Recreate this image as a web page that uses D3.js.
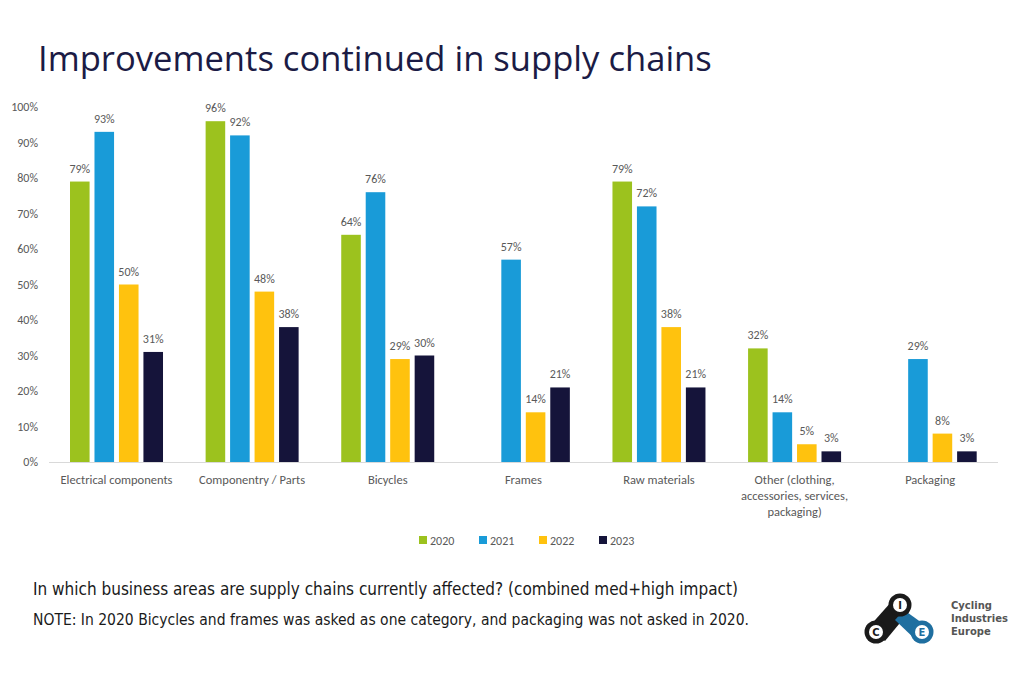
<!DOCTYPE html>
<html><head><meta charset="utf-8">
<script src="https://cdn.jsdelivr.net/npm/d3@7"></script>
<style>body{margin:0;background:#fff;} svg{display:block;}</style>
</head><body>
<svg id="c" width="1024" height="683"></svg>
<script>
const categories = ["Electrical components","Componentry / Parts","Bicycles","Frames","Raw materials","Other (clothing,|accessories, services,|packaging)","Packaging"];
const years = ["2020","2021","2022","2023"];
const v2020 = [79,96,64,null,79,32,null];
const v2021 = [93,92,76,57,72,14,29];
const v2022 = [50,48,29,14,38,5,8];
const v2023 = [31,38,30,21,21,3,3];
const yTicks = [0,10,20,30,40,50,60,70,80,90,100];
const colors = ["#9CC21E","#199BD8","#FFC20E","#15143A"];
const series = [v2020,v2021,v2022,v2023];

const svg = d3.select("#c");
const lblFont = "Calibri, 'Open Sans', sans-serif";
svg.append("text").attr("x",38).attr("y",71).attr("font-family","'Open Sans', Lato, sans-serif")
  .attr("font-size",34.6).attr("fill","#1b1b45").text("Improvements continued in supply chains");

const x = d3.scaleBand().domain(categories).range([48.7,998]).paddingInner(0).paddingOuter(0);
const half = x.bandwidth()/2;
const xs = d3.scaleBand().domain(years).range([half-46.5,half+46.5]).paddingInner(0.2).paddingOuter(0);
const y = d3.scaleLinear().domain([0,100]).range([462,107]);

// y axis
const ya = svg.append("g").attr("transform","translate(41,0)")
  .call(d3.axisLeft(y).tickValues(yTicks).tickFormat(d=>d+"%").tickSize(0));
ya.select(".domain").remove();
ya.selectAll("text").attr("font-family",lblFont).attr("font-size",12).attr("fill","#595959");

// baseline
svg.append("line").attr("x1",49).attr("x2",998).attr("y1",462.5).attr("y2",462.5).attr("stroke","#d9d9d9").attr("stroke-width",1);

// bars
series.forEach((s,i)=>{
  const g = svg.append("g");
  categories.forEach((c,j)=>{
    const v = s[j];
    if(v==null) return;
    const bx = x(c)+xs(years[i]);
    g.append("rect").attr("x",bx).attr("y",y(v)).attr("width",xs.bandwidth()).attr("height",y(0)-y(v)).attr("fill",colors[i]);
    g.append("text").attr("x",bx+xs.bandwidth()/2).attr("y",y(v)-9).attr("text-anchor","middle")
      .attr("font-family",lblFont).attr("font-size",12).attr("fill","#595959").text(v+"%");
  });
});

// x labels
const xa = svg.append("g").attr("transform","translate(0,462)").call(d3.axisBottom(x).tickSize(0).tickFormat(""));
xa.select(".domain").remove();
categories.forEach(c=>{
  const lines = c.split("|");
  const t = svg.append("text").attr("x",x(c)+x.bandwidth()/2).attr("y",484).attr("text-anchor","middle")
    .attr("font-family",lblFont).attr("font-size",12.5).attr("fill","#595959");
  lines.forEach((l,k)=>t.append("tspan").attr("x",x(c)+x.bandwidth()/2).attr("dy",k?16:0).text(l));
});

// legend
const lx = [419,479,539,599];
years.forEach((yr,i)=>{
  svg.append("rect").attr("x",lx[i]).attr("y",536).attr("width",8).attr("height",8).attr("fill",colors[i]);
  svg.append("text").attr("x",lx[i]+11).attr("y",544.5).attr("font-family",lblFont)
    .attr("font-size",12).attr("fill","#595959").text(yr);
});

// footnotes
svg.append("text").attr("x",33).attr("y",595).attr("font-family","'Liberation Sans Narrow','DejaVu Sans Condensed',sans-serif")
  .attr("font-size",17).attr("fill","#1a1a1a").text("In which business areas are supply chains currently affected? (combined med+high impact)");
svg.append("text").attr("x",33).attr("y",625).attr("font-family","'Liberation Sans Narrow','DejaVu Sans Condensed',sans-serif")
  .attr("font-size",15.5).attr("fill","#1a1a1a").text("NOTE: In 2020 Bicycles and frames was asked as one category, and packaging was not asked in 2020.");

// logo
const lg = svg.append("g");
lg.append("path").attr("d","M868,628 L892,601 L909,612 L885,641 Z").attr("fill","#1a1a1a");
lg.append("path").attr("d","M904,610 L929,628 L917,641 L895,620 Z").attr("fill","#1f6fa0");
lg.append("circle").attr("cx",876).attr("cy",632).attr("r",11.5).attr("fill","#1a1a1a");
lg.append("circle").attr("cx",900).attr("cy",605).attr("r",11.5).attr("fill","#1a1a1a");
lg.append("circle").attr("cx",922).attr("cy",632).attr("r",11.5).attr("fill","#1f6fa0");
[[876,632,"C"],[900,605,"I"],[922,632,"E"]].forEach(([cx,cy,t])=>{
  lg.append("circle").attr("cx",cx).attr("cy",cy).attr("r",7).attr("fill","#fff");
  lg.append("text").attr("x",cx).attr("y",cy+4).attr("text-anchor","middle").attr("font-family","'DejaVu Sans',sans-serif")
    .attr("font-weight","bold").attr("font-size",10).attr("fill", t==="E"?"#1f6fa0":"#1a1a1a").text(t);
});
["Cycling","Industries","Europe"].forEach((t,i)=>{
  lg.append("text").attr("x",951).attr("y",609+i*13).attr("font-family","'DejaVu Sans',sans-serif").attr("font-weight","bold")
    .attr("font-size",10).attr("fill","#555").text(t);
});
</script>
</body></html>
